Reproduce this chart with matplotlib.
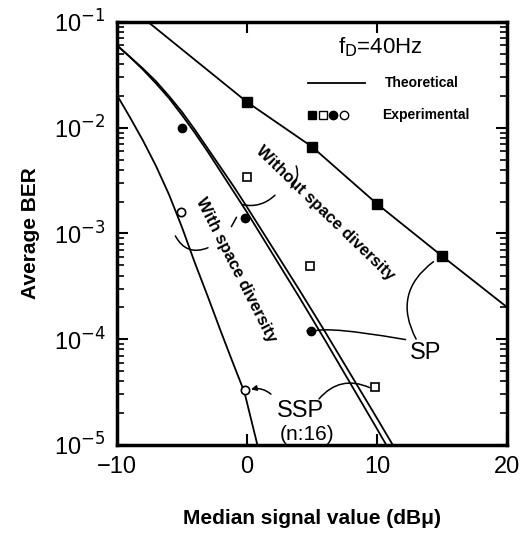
import matplotlib.pyplot as plt
import numpy as np

plt.rcParams['font.family'] = ['Liberation Sans', 'DejaVu Sans']

# theoretical curves (x in dBu, log10 of BER)
x_sp = [-7.6, 0, 5, 10, 15, 20]
y_sp = [1e-1, 1.75e-2, 6.6e-3, 1.9e-3, 6.1e-4, 2.0e-4]

x_div_a = [-10, -9, -8, -7, -6, -5, -4, -3, -2, -1, 0, 2, 4, 6, 8, 10, 10.7]
log_div_a = [-1.22, -1.33, -1.45, -1.58, -1.72, -1.88, -2.05, -2.23, -2.42, -2.61, -2.80,
             -3.20, -3.60, -4.01, -4.43, -4.85, -5.0]

x_div_b = [-10, -9, -8, -7, -6, -5, -4, -3, -2, -1, 0, 2, 4, 6, 8, 10, 11.2]
log_div_b = [-1.22, -1.33, -1.44, -1.56, -1.70, -1.85, -2.02, -2.20, -2.38, -2.56, -2.75,
             -3.14, -3.53, -3.93, -4.34, -4.75, -5.0]

x_ssp = [-10, -9, -8, -7, -6, -5, -4, -3, -2, -1, -0.2, 0.8]
log_ssp = [-1.69, -1.90, -2.12, -2.36, -2.63, -2.94, -3.28, -3.60, -3.93, -4.25, -4.50, -5.0]

# experimental points
x_sq = [0, 5, 10, 15]
y_sq = [1.74e-2, 6.6e-3, 1.9e-3, 6.1e-4]
x_osq = [0, 4.85, 9.85]
y_osq = [3.4e-3, 4.9e-4, 3.5e-5]
x_dot = [-5, -0.15, 4.9]
y_dot = [1.0e-2, 1.4e-3, 1.2e-4]
x_circ = [-5.1, -0.15]
y_circ = [1.6e-3, 3.3e-5]

fig = plt.figure(figsize=(5.24, 5.36), dpi=100)
ax = fig.add_axes([0.223, 0.170, 0.745, 0.789])

lw = 1.3
ax.plot(x_sp, y_sp, color='black', lw=lw)
ax.plot(x_div_a, 10 ** np.array(log_div_a), color='black', lw=lw)
ax.plot(x_div_b, 10 ** np.array(log_div_b), color='black', lw=lw)
ax.plot(x_ssp, 10 ** np.array(log_ssp), color='black', lw=lw)

ax.plot(x_sq, y_sq, 's', color='black', ms=7)
ax.plot(x_osq, y_osq, 's', mfc='white', mec='black', mew=1.2, ms=6)
ax.plot(x_dot, y_dot, 'o', color='black', ms=6)
ax.plot(x_circ, y_circ, 'o', mfc='white', mec='black', mew=1.2, ms=6)

ax.set_yscale('log')
ax.set_xlim(-10, 20)
ax.set_ylim(1e-5, 1e-1)
ax.set_xticks([-10, 0, 10, 20])
ax.set_xticklabels(['\u221210', '0', '10', '20'])
ax.set_yticks([1e-5, 1e-4, 1e-3, 1e-2, 1e-1])
ax.set_yticklabels([r'10$^{\mathsf{-5}}$', r'10$^{\mathsf{-4}}$', r'10$^{\mathsf{-3}}$',
                    r'10$^{\mathsf{-2}}$', r'10$^{\mathsf{-1}}$'])
ax.tick_params(which='both', direction='in', top=True, right=True)
ax.tick_params(which='major', length=8, width=1.5, labelsize=17, pad=8)
ax.tick_params(which='minor', length=5, width=1.2)
for s in ax.spines.values():
    s.set_linewidth(2.5)

ax.set_ylabel('Average BER', fontsize=15, fontweight='bold', labelpad=10)
ax.set_xlabel('Median signal value (dB\u03bc)', fontsize=15, fontweight='bold', labelpad=22)

# legend block
ax.text(0.675, 0.94, r'f$_{\mathsf{D}}$=40Hz', transform=ax.transAxes,
        fontsize=16, ha='center', va='center')
ax.plot([0.49, 0.636], [0.856, 0.856], color='black', lw=lw, transform=ax.transAxes)
ax.text(0.687, 0.856, 'Theoretical', transform=ax.transAxes, fontsize=10,
        fontweight='bold', va='center')
ax.plot([0.5], [0.78], 's', color='black', ms=6, transform=ax.transAxes)
ax.plot([0.527], [0.78], 's', mfc='white', mec='black', ms=6, transform=ax.transAxes)
ax.plot([0.554], [0.78], 'o', color='black', ms=6, transform=ax.transAxes)
ax.plot([0.582], [0.78], 'o', mfc='white', mec='black', ms=6, transform=ax.transAxes)
ax.text(0.68, 0.78, 'Experimental', transform=ax.transAxes, fontsize=10,
        fontweight='bold', va='center')

# rotated curve labels
ax.text(6.0, 1.55e-3, 'Without space diversity', rotation=-44, fontsize=12,
        fontweight='bold', ha='center', va='center', rotation_mode='anchor')
ax.text(-0.85, 4.5e-4, 'With space diversity', rotation=-63, fontsize=12,
        fontweight='bold', ha='center', va='center', rotation_mode='anchor')

ax.text(13.7, 7.4e-5, 'SP', fontsize=17, ha='center', va='center')
ax.text(4.1, 2.1e-5, 'SSP', fontsize=17, ha='center', va='center')
ax.text(4.6, 1.26e-5, '(n:16)', fontsize=15, ha='center', va='center')

# leader curves
arc = dict(arrowstyle='-', color='black', lw=1.1)
ax.annotate('', xy=(14.5, 5.6e-4), xytext=(13.1, 9.5e-5),
            arrowprops=dict(arc, connectionstyle='arc3,rad=-0.45'))
ax.annotate('', xy=(4.9, 1.0e-4), xytext=(12.4, 9.8e-5),
            arrowprops=dict(arrowstyle='-|>', color='black', lw=1.1, mutation_scale=8,
                            connectionstyle='angle3,angleA=170,angleB=-60'))
ax.annotate('', xy=(0.1, 3.3e-5), xytext=(2.0, 2.9e-5),
            arrowprops=dict(arrowstyle='-|>', color='black', lw=1.1, mutation_scale=8,
                            connectionstyle='arc3,rad=0.3'))
ax.annotate('', xy=(9.6, 3.4e-5), xytext=(5.4, 2.6e-5),
            arrowprops=dict(arc, connectionstyle='arc3,rad=-0.4'))

# small brackets tying labels to curves
ax.annotate('', xy=(3.7, 4.6e-3), xytext=(3.2, 2.6e-3),
            arrowprops=dict(arc, connectionstyle='arc3,rad=0.4'))
ax.annotate('', xy=(-0.6, 1.9e-3), xytext=(2.3, 2.4e-3),
            arrowprops=dict(arc, connectionstyle='arc3,rad=-0.3'))
ax.annotate('', xy=(-1.3, 1.1e-3), xytext=(-0.7, 1.5e-3),
            arrowprops=dict(arc, connectionstyle='arc3,rad=0.0'))
ax.annotate('', xy=(-5.6, 1.0e-3), xytext=(-2.8, 7.5e-4),
            arrowprops=dict(arc, connectionstyle='arc3,rad=-0.5'))

fig.savefig('out.png', dpi=100)
